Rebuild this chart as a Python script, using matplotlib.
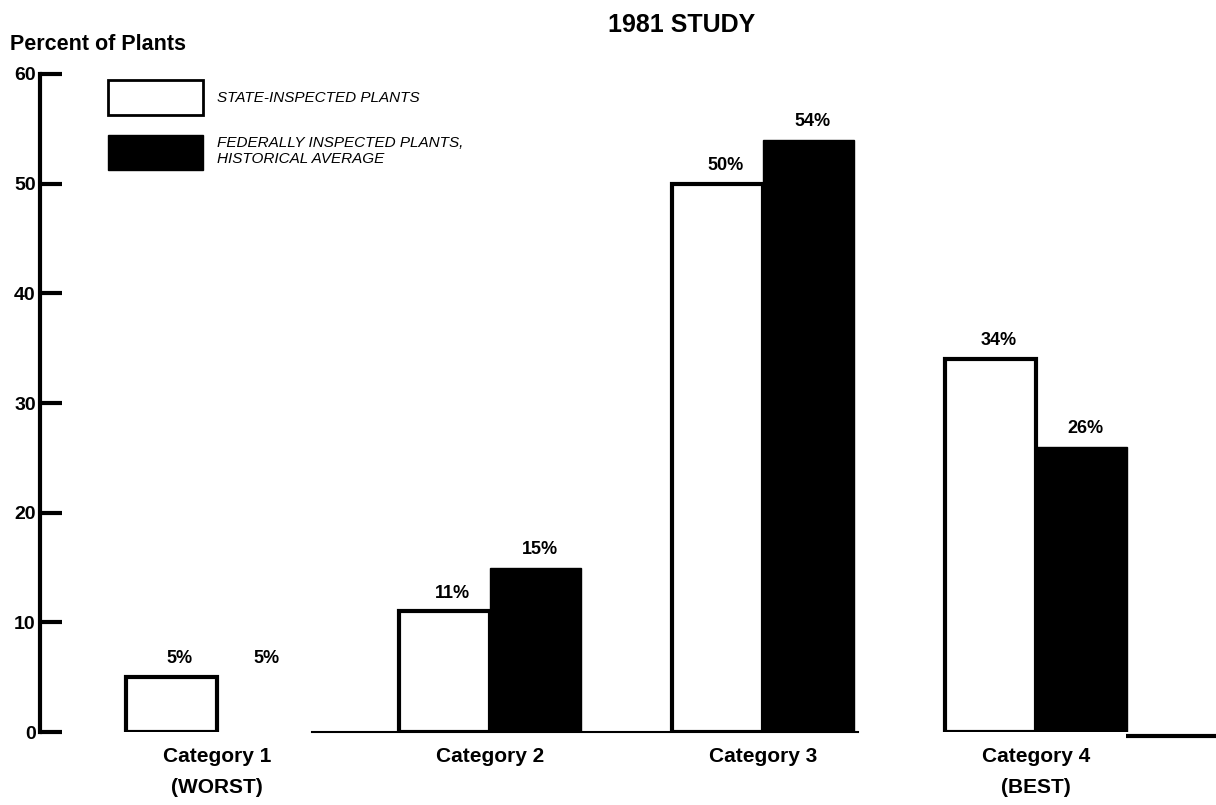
import numpy as np
import matplotlib.pyplot as plt
from matplotlib.patches import Patch

categories = ["Category 1\n(WORST)", "Category 2", "Category 3", "Category 4\n(BEST)"]
state = [5, 11, 50, 34]
federal = [5, 15, 54, 26]
series_names = ["STATE-INSPECTED PLANTS", "FEDERALLY INSPECTED PLANTS,\nHISTORICAL AVERAGE"]

plain = ["Liberation Sans", "DejaVu Sans"]

fig = plt.figure(figsize=(12.16, 8.05), dpi=100)
ax = fig.add_axes([40/1216, (805-732)/805, 1-40/1216, 658/805])

x = np.arange(len(categories))
w = 0.333
b_state = ax.bar(x - w/2, state, w, facecolor="white", edgecolor="black", linewidth=3)
b_fed = ax.bar(x + w/2, federal, w, facecolor="black", edgecolor="black", linewidth=1)
# first federal bar faded out of the scanned original, only its label is left
b_fed[0].set_visible(False)

for bars, vals, dx in [(b_state, state, 6), (b_fed, federal, 3)]:
    for r, v in zip(bars, vals):
        ax.annotate(f"{v}%", (r.get_x() + r.get_width()/2, r.get_height()),
                    xytext=(dx, 7), textcoords="offset points", ha="center", va="bottom",
                    fontsize=13, fontweight="bold", fontfamily=plain)

ax.set_xlim(-0.648, 3.66)
ax.set_ylim(0, 60)
ax.set_yticks(range(0, 61, 10))
ax.set_xticks(x)
ax.set_xticklabels(categories, fontsize=15, fontweight="bold", fontfamily=plain, linespacing=1.75)
ax.tick_params(axis="x", length=0, pad=11)
ax.tick_params(axis="y", direction="in", length=16, width=3, pad=3, labelsize=14)
for t in ax.get_yticklabels():
    t.set_fontweight("bold")
    t.set_fontfamily(plain)

for s in ["top", "right"]:
    ax.spines[s].set_visible(False)
ax.spines["left"].set_linewidth(3)
ax.spines["bottom"].set_linewidth(1.5)
ax.spines["bottom"].set_bounds(0.35, 2.35)
ax.hlines(-0.4, 3.33, 3.66, color="black", linewidth=3, clip_on=False)

handles = [Patch(facecolor="white", edgecolor="black", linewidth=2),
           Patch(facecolor="black", edgecolor="black")]
leg = ax.legend(handles, series_names, loc="upper left",
                bbox_to_anchor=(108/1216, 1-80/805), bbox_transform=fig.transFigure,
                frameon=False, borderpad=0, borderaxespad=0,
                handlelength=6.2, handleheight=3.15,
                handletextpad=0.95, labelspacing=1.3,
                prop={"family": plain, "style": "italic", "size": 11})

fig.text(10/1216, 1-45/805, "Percent of Plants", ha="left", va="center",
         fontsize=15.5, fontweight="bold", fontfamily=plain)
fig.text(682/1216, 1-25/805, "1981 STUDY", ha="center", va="center",
         fontsize=18, fontweight="bold", fontfamily=plain)

plt.savefig("out.png", dpi=100)
